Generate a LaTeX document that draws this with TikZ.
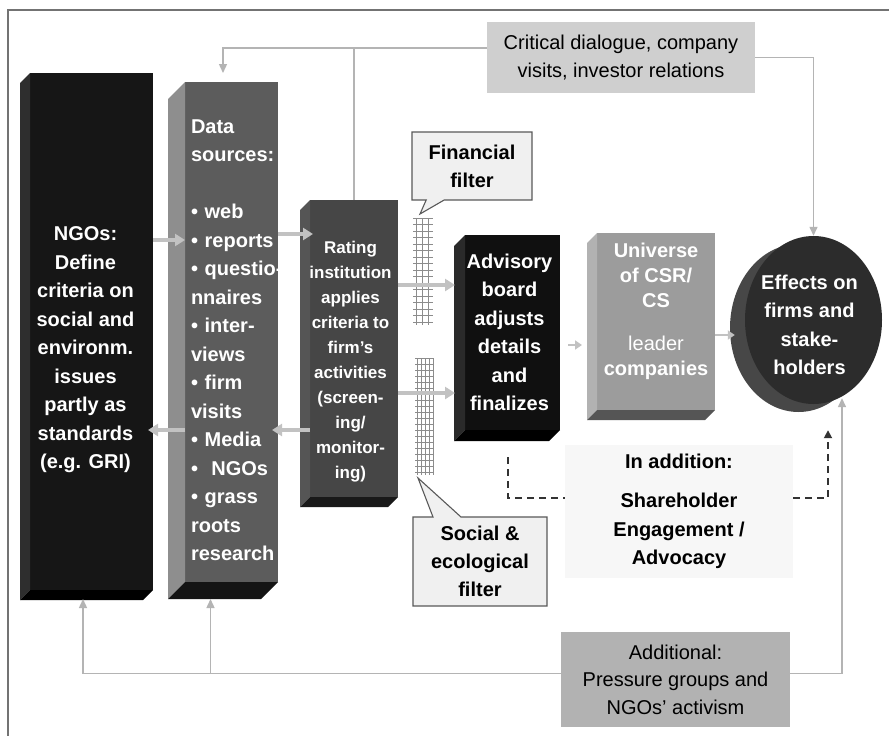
\documentclass[tikz,border=0pt]{standalone}
\usepackage{fontspec}
\setmainfont{Liberation Sans}
\usetikzlibrary{arrows.meta,shapes.geometric,shapes.callouts}

\definecolor{ngofront}{HTML}{161616}
\definecolor{ngoside}{HTML}{2E2E2E}
\definecolor{datafront}{HTML}{5C5C5C}
\definecolor{dataside}{HTML}{8E8E8E}
\definecolor{ratefront}{HTML}{464646}
\definecolor{rateside}{HTML}{555555}
\definecolor{advfront}{HTML}{101010}
\definecolor{advside}{HTML}{2A2A2A}
\definecolor{unifront}{HTML}{9C9C9C}
\definecolor{uniside}{HTML}{B2B2B2}
\definecolor{unibottom}{HTML}{555555}
\definecolor{efffront}{HTML}{2C2C2C}
\definecolor{effside}{HTML}{474747}
\definecolor{arrowgrey}{HTML}{C2C2C2}
\definecolor{linegrey}{HTML}{B4B4B4}
\definecolor{gridgrey}{HTML}{8C8C8C}

% side and bottom face of a block: node, depth, side colour, bottom colour
\newcommand{\extrude}[4]{%
  \fill[#3] (#1.north west) -- ([shift={(-#2,#2)}]#1.north west) -- ([shift={(-#2,#2)}]#1.south west) -- (#1.south west) -- cycle;
  \fill[#4] (#1.south west) -- ([shift={(-#2,#2)}]#1.south west) -- ([shift={(-#2,#2)}]#1.south east) -- (#1.south east) -- cycle;
}

\begin{document}
\begin{tikzpicture}[x=1pt, y=-1pt,
    face/.style={rectangle, inner sep=0pt, outer sep=0pt},
    boxtext/.style={text=white, align=center, font=\fontsize{20}{28.5}\selectfont\bfseries},
    greybox/.style={rectangle, inner sep=0pt, align=center, font=\fontsize{20}{27.5}\selectfont},
    filterbox/.style={rectangle callout, fill=black!6, draw=black!65, line width=1.1pt, inner sep=0pt, callout pointer width=18pt, align=center, font=\fontsize{20}{28}\selectfont\bfseries},
    flow/.style={draw=arrowgrey, line width=3.5pt, -{Triangle[length=10pt,width=12pt]}},
    smallflow/.style={draw=arrowgrey, line width=2.5pt, -{Triangle[length=7pt,width=9pt]}},
    fb/.style={draw=linegrey, line width=1.4pt},
    fbarrow/.style={fb, -{Triangle[length=9pt,width=8pt]}},
    dashlink/.style={draw=black!80, line width=1.8pt, dash pattern=on 7pt off 5pt}]

    \useasboundingbox (0,0) rectangle (889,736);
    \fill[white] (0,0) rectangle (889,736);
    \draw[black!55, line width=1.2pt] (8,736) -- (8,10) -- (889,10);

    % blocks
    \node[face, fill=ngofront, minimum width=123pt, minimum height=517pt,
      label={[boxtext, xshift=-6pt, yshift=-18.5pt]center:{NGOs:\\Define\\criteria on\\social and\\environm.\\issues\\partly as\\standards\\(e.g. GRI)}}] (ngo) at (91.5,331.5) {};
    \extrude{ngo}{10}{ngoside}{black}

    \node[face, fill=datafront, minimum width=93pt, minimum height=500pt,
      label={[boxtext, align=left, text width=95pt, xshift=7pt, yshift=-8pt]center:{Data\\sources:\\[28.5pt]• web\\• reports\\• questio-\\nnaires\\• inter-\\views\\• firm\\visits\\• Media\\•\ \ NGOs\\• grass\\roots\\research}}] (data) at (231.5,332) {};
    \extrude{data}{17}{dataside}{black!92}

    \node[face, fill=ratefront, minimum width=88pt, minimum height=297pt,
      label={[boxtext, font=\fontsize{17}{25}\selectfont\bfseries, xshift=-3.5pt, yshift=-13pt]center:{Rating\\institution\\applies\\criteria to\\firm's\\activities\\(screen-\\ing/\\monitor-\\ing)}}] (rate) at (354,348.5) {};
    \extrude{rate}{10}{rateside}{black!90}

    \node[face, fill=advfront, minimum width=95pt, minimum height=195pt,
      label={[boxtext, xshift=-3pt]center:{Advisory\\board\\adjusts\\details\\and\\finalizes}}] (adv) at (512.5,332.5) {};
    \extrude{adv}{11}{advside}{black}

    \node[face, fill=unifront, minimum width=118pt, minimum height=177pt,
      label={[boxtext, font=\fontsize{20}{25}\selectfont\bfseries, yshift=10pt]center:{Universe\\of CSR/\\CS\\[18pt]{\mdseries leader}\\companies}}] (uni) at (656,321.5) {};
    \extrude{uni}{10}{uniside}{unibottom}

    \coordinate (effc) at (813.5,320);
    \fill[effside] ([shift={(-15,8)}]effc) ellipse [x radius=68.5, y radius=84];
    \node[ellipse, fill=efffront, inner sep=0pt, minimum width=137pt, minimum height=168pt,
      label={[boxtext, xshift=-4pt, yshift=-5pt]center:{Effects on\\firms and\\stake-\\holders}}] (eff) at (effc) {};

    \node[greybox, fill=black!19, minimum width=268pt, minimum height=71pt] (crit) at (621,57.5) {Critical dialogue, company\\visits, investor relations};
    \node[greybox, fill=black!30, minimum width=229pt, minimum height=95pt] (addl) at (675.5,679.5) {Additional:\\Pressure groups and\\NGOs' activism};
    \node[rectangle, fill=black!3, inner sep=0pt, minimum width=228pt, minimum height=133pt, align=center,
      font=\fontsize{20}{28.5}\selectfont\bfseries] (addition) at (679,511.5) {In addition:\\[11pt]Shareholder\\Engagement /\\Advocacy};

    % filter grids
    \foreach \gy in {218,224.5,...,325} \draw[gridgrey, line width=0.9pt] (413,\gy) -- (433,\gy);
    \foreach \gx in {416,422,428} \draw[gridgrey, line width=0.9pt] (\gx,218) -- (\gx,325);
    \foreach \gy in {358,364,...,475} \draw[gridgrey, line width=0.9pt] (415,\gy) -- (434,\gy);
    \foreach \gx in {417,421,...,433} \draw[gridgrey, line width=0.9pt] (\gx,358) -- (\gx,475);

    \coordinate (fintip) at (420,214);
    \coordinate (soctip) at (418,478);
    \node[filterbox, minimum width=120pt, minimum height=68pt, callout absolute pointer={(fintip)}] (fin) at (472,166) {Financial\\filter};
    \node[filterbox, minimum width=134pt, minimum height=89pt, callout pointer width=28pt, callout absolute pointer={(soctip)}] (soc) at (480,561.5) {Social \&\\ecological\\filter};

    % main flow
    \draw[flow] (ngo.east |- 0,240) -- (data.west |- 0,240);
    \draw[flow] (data.east |- 0,234) -- ([xshift=3pt]rate.west |- 0,234);
    \draw[flow] (rate.east |- 0,285) -- ([xshift=-10pt]adv.west |- 0,285);
    \draw[flow] (rate.east |- 0,393) -- ([xshift=-10pt]adv.west |- 0,393);
    \draw[flow] (data.west |- 0,430) -- ([xshift=-5pt]ngo.east |- 0,430);
    \draw[flow] (rate.west |- 0,430) -- ([xshift=-6pt]data.east |- 0,430);
    \draw[smallflow] ([xshift=8pt]adv.east |- 0,345) -- ([xshift=-15pt]uni.west |- 0,345);
    \draw[smallflow] (uni.east |- 0,335) -- ([xshift=-10pt]eff.west |- 0,335);

    % feedback lines
    \draw[fb] (rate.north) |- ([yshift=9.5pt]crit.west);
    \draw[fbarrow, shorten >=9pt] ([yshift=9.5pt]crit.west) -| ([xshift=-8.5pt]data.north);
    \draw[fbarrow] (crit.east) -| (eff.north);
    \draw[fbarrow] ([yshift=6pt]addl.east) -| ([xshift=28.5pt,yshift=6pt]eff.south);
    \draw[fbarrow] ([yshift=6pt]addl.west) -| ([xshift=-8.5pt,yshift=-9pt]ngo.south);
    \draw[fbarrow] ([yshift=6pt]addl.west) -| ([xshift=-21pt,yshift=-17pt]data.south);

    % shareholder engagement
    \draw[dashlink] ([xshift=-4.5pt,yshift=-27pt]adv.south) |- ([yshift=13.5pt]addition.west);
    \draw[dashlink, -{Triangle[length=8pt,width=8pt]}] ([yshift=13.5pt]addition.east) -| ([xshift=14.5pt,yshift=-26pt]eff.south);
\end{tikzpicture}
\end{document}
